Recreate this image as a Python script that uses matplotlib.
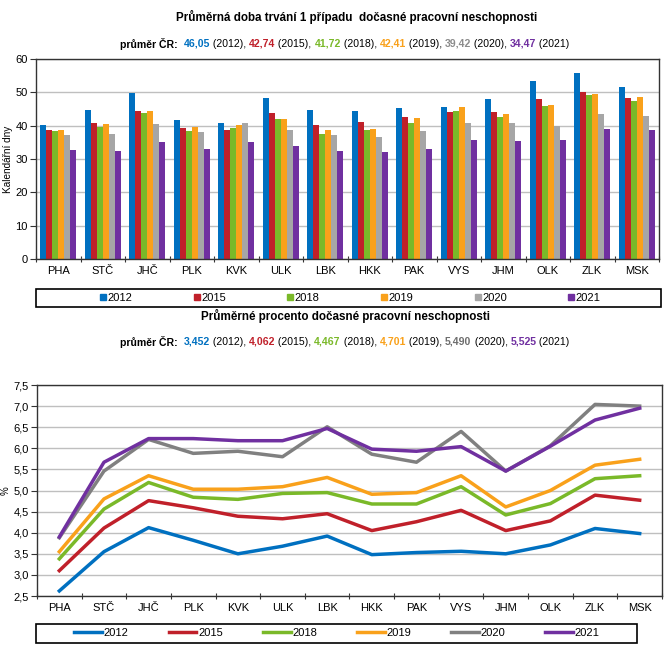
import matplotlib
matplotlib.use("Agg")
import matplotlib.pyplot as plt
import numpy as np
from matplotlib.patches import Rectangle
from matplotlib.lines import Line2D

plt.rcParams['font.family'] = ['Liberation Sans', 'DejaVu Sans']

kraje = ["PHA", "STČ", "JHČ", "PLK", "KVK", "ULK", "LBK", "HKK", "PAK", "VYS", "JHM", "OLK", "ZLK", "MSK"]
roky = ["2012", "2015", "2018", "2019", "2020", "2021"]
barvy_sloupce = ["#0070C0", "#C0202A", "#7AB929", "#F9A11B", "#A6A6A6", "#7030A0"]
barvy_cary = ["#0070C0", "#C0202A", "#7AB929", "#F9A11B", "#808080", "#7030A0"]

# prumerna doba trvani 1 pripadu (dny)
doba = {
    "2012": [40.2, 44.7, 49.7, 41.7, 40.9, 48.2, 44.7, 44.4, 45.3, 45.6, 47.9, 53.5, 55.8, 51.7],
    "2015": [38.8, 40.9, 44.4, 39.4, 38.8, 43.9, 40.2, 41.2, 42.6, 44.1, 44.1, 47.9, 50.2, 48.4],
    "2018": [38.5, 39.7, 43.8, 38.5, 39.4, 42.1, 37.6, 38.8, 40.9, 44.4, 42.6, 45.8, 49.3, 47.3],
    "2019": [38.8, 40.6, 44.4, 39.7, 40.2, 42.1, 38.8, 39.1, 42.3, 45.5, 43.5, 46.2, 49.6, 48.7],
    "2020": [37.3, 37.6, 40.6, 38.2, 40.9, 38.8, 37.3, 36.7, 38.5, 40.9, 40.9, 40.0, 43.5, 42.9],
    "2021": [32.7, 32.3, 35.0, 33.0, 35.0, 33.8, 32.3, 32.0, 33.0, 35.8, 35.5, 35.8, 39.1, 38.8],
}
prumer_doba = ["46,05", "42,74", "41,72", "42,41", "39,42", "34,47"]

# prumerne procento docasne pracovni neschopnosti
procento = {
    "2012": [2.62, 3.55, 4.12, 3.82, 3.50, 3.68, 3.92, 3.48, 3.53, 3.56, 3.50, 3.71, 4.10, 3.98],
    "2015": [3.10, 4.11, 4.76, 4.59, 4.39, 4.33, 4.45, 4.05, 4.26, 4.53, 4.05, 4.28, 4.89, 4.77],
    "2018": [3.38, 4.56, 5.19, 4.84, 4.79, 4.93, 4.95, 4.68, 4.68, 5.09, 4.42, 4.69, 5.28, 5.35],
    "2019": [3.55, 4.80, 5.35, 5.03, 5.03, 5.09, 5.31, 4.91, 4.95, 5.35, 4.61, 5.00, 5.60, 5.74],
    "2020": [3.88, 5.46, 6.21, 5.88, 5.93, 5.80, 6.51, 5.86, 5.67, 6.40, 5.46, 6.06, 7.04, 7.00],
    "2021": [3.90, 5.67, 6.23, 6.23, 6.18, 6.18, 6.47, 5.98, 5.93, 6.04, 5.46, 6.05, 6.67, 6.95],
}
prumer_proc = ["3,452", "4,062", "4,467", "4,701", "5,490", "5,525"]

W, H = 670, 669
fig = plt.figure(figsize=(W / 100, H / 100), dpi=100)


def px(x0, y0, x1, y1):
    return [x0 / W, 1 - y1 / H, (x1 - x0) / W, (y1 - y0) / H]


def barevny_radek(y, kusy, size=7.6):
    # kusy = [(text, barva, tucne)], vycentrovano na stred obrazku
    r = fig.canvas.get_renderer()
    texty = []
    for t, c, b in kusy:
        texty.append(fig.text(0, 1 - y / H, t, color=c, fontsize=size,
                              fontweight="bold" if b else "normal", va="center", ha="left"))
    sirky = [tx.get_window_extent(r).width for tx in texty]
    x = (W - sum(sirky)) / 2 + 10
    for tx, s in zip(texty, sirky):
        tx.set_x(x / W)
        x += s


def osy_styl(ax):
    for s in ax.spines.values():
        s.set_color("#333333")
        s.set_linewidth(1.0)
    ax.yaxis.grid(True, color="#BFBFBF", linewidth=1)
    ax.set_axisbelow(True)
    ax.set_xlim(-0.5, len(kraje) - 0.5)
    ax.set_xticks(np.arange(len(kraje) + 1) - 0.5)
    ax.set_xticklabels([])
    ax.set_xticks(np.arange(len(kraje)), minor=True)
    ax.set_xticklabels(kraje, minor=True, fontsize=8)
    ax.tick_params(axis="x", which="minor", length=0, pad=5)
    ax.tick_params(axis="x", which="major", length=5, direction="inout", color="#333333")
    ax.tick_params(axis="y", length=4, direction="out", labelsize=8, color="#333333", pad=2)


# ---- horni graf: sloupce ----
ax1 = fig.add_axes(px(36, 59, 659, 259))
x = np.arange(len(kraje))
sirka = 0.135
for i, rok in enumerate(roky):
    ax1.bar(x + (i - 2.5) * sirka, doba[rok], width=sirka, color=barvy_sloupce[i], edgecolor="none")
ax1.set_ylim(0, 60)
ax1.set_yticks(range(0, 61, 10))
osy_styl(ax1)
ax1.set_ylabel("Kalendářní dny", fontsize=7.2)
ax1.yaxis.set_label_coords(-0.037, 0.5)

fig.text(357 / W, 1 - 17 / H, "Průměrná doba trvání 1 případu  dočasné pracovní neschopnosti",
         ha="center", va="center", fontsize=8.4, fontweight="bold")
kusy = [("průměr ČR:  ", "black", True)]
for i, rok in enumerate(roky):
    kusy.append((prumer_doba[i], barvy_sloupce[i] if i != 4 else "#8C8C8C", True))
    kusy.append((" (" + rok + ")" + (", " if i < 5 else ""), "black", False))
barevny_radek(44, kusy)

fig.patches.append(Rectangle((36 / W, 1 - 307 / H), (661 - 36) / W, 18.5 / H,
                             transform=fig.transFigure, fill=False, edgecolor="black", linewidth=1.2))
h1 = [Line2D([], [], marker="s", linestyle="", color=c, markersize=4) for c in barvy_sloupce]
fig.legend(h1, roky, loc="center", bbox_to_anchor=(350 / W, 1 - 298 / H), ncol=6, frameon=False,
           fontsize=8, handlelength=0.6, handletextpad=0.1, columnspacing=5.5, borderpad=0)

# ---- dolni graf: cary ----
ax2 = fig.add_axes(px(37, 385, 662, 596))
for i, rok in enumerate(roky):
    ax2.plot(x, procento[rok], color=barvy_cary[i], linewidth=2.5, solid_joinstyle="round")
ax2.set_ylim(2.5, 7.5)
ax2.set_yticks(np.arange(2.5, 7.51, 0.5))
ax2.set_yticklabels([f"{v:.1f}".replace(".", ",") for v in np.arange(2.5, 7.51, 0.5)])
osy_styl(ax2)
ax2.set_ylabel("%", fontsize=7)
ax2.yaxis.set_label_coords(-0.043, 0.5)

fig.text(345 / W, 1 - 316 / H, "Průměrné procento dočasné pracovní neschopnosti",
         ha="center", va="center", fontsize=8.4, fontweight="bold")
kusy = [("průměr ČR:  ", "black", True)]
for i, rok in enumerate(roky):
    kusy.append((prumer_proc[i], barvy_cary[i] if i != 4 else "#6E6E6E", True))
    kusy.append((" (" + rok + ")" + (", " if i < 5 else ""), "black", False))
barevny_radek(342, kusy)

fig.patches.append(Rectangle((36 / W, 1 - 643 / H), (637 - 36) / W, 19.5 / H,
                             transform=fig.transFigure, fill=False, edgecolor="black", linewidth=1.2))
h2 = [Line2D([], [], color=c, linewidth=2.5) for c in barvy_cary]
fig.legend(h2, roky, loc="center", bbox_to_anchor=(337 / W, 1 - 633 / H), ncol=6, frameon=False,
           fontsize=8, handlelength=2.5, handletextpad=0.15, columnspacing=3.6, borderpad=0)

fig.savefig("out.png", dpi=100)
